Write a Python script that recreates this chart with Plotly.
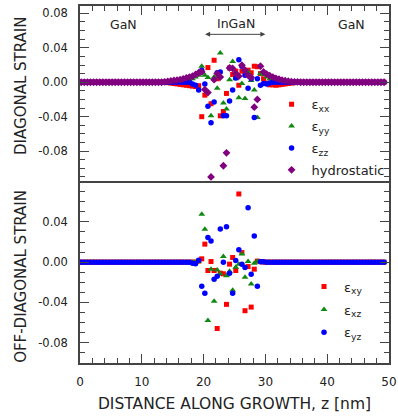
import plotly.graph_objects as go

# ---------------- data ----------------
z_nm = [
    0.2, 0.7, 1.2, 1.7, 2.2, 2.7, 3.2, 3.7, 4.2, 4.7,
    5.2, 5.7, 6.2, 6.7, 7.2, 7.7, 8.2, 8.7, 9.2, 9.7,
    10.2, 10.7, 11.2, 11.7, 12.2, 12.7, 13.2, 13.7, 14.2, 14.7,
    15.2, 15.7, 16.2, 16.7, 17.2, 17.7, 18.2, 18.7, 19.2, 19.7,
    20.2, 20.7, 21.2, 21.7, 22.2, 22.7, 23.2, 23.7, 24.2, 24.7,
    25.2, 25.7, 26.2, 26.7, 27.2, 27.7, 28.2, 28.7, 29.2, 29.7,
    30.2, 30.7, 31.2, 31.7, 32.2, 32.7, 33.2, 33.7, 34.2, 34.7,
    35.2, 35.7, 36.2, 36.7, 37.2, 37.7, 38.2, 38.7, 39.2, 39.7,
    40.2, 40.7, 41.2, 41.7, 42.2, 42.7, 43.2, 43.7, 44.2, 44.7,
    45.2, 45.7, 46.2, 46.7, 47.2, 47.7, 48.2, 48.7, 49.2,
]

eps_xx = [
    0, 0, 0, 0, 0, 0, 0, 0, 0, 0,
    0, 0, 0, 0, 0, 0, 0, 0, 0, 0,
    0, 0, 0, 0, 0, 0, 0, 0, -0.0005, -0.001,
    -0.0015, -0.002, -0.0025, -0.003, -0.0035, -0.004, -0.0045, -0.005, -0.004, -0.040,
    -0.015, 0.017, -0.025, 0.0255, 0.004, -0.039, -0.034, -0.013, 0.0166, 0.009,
    0.0128, -0.0035, 0.0128, 0.012, 0.014, 0.011, 0.0186, 0.018, 0.010, 0.004,
    -0.001, -0.003, -0.003, -0.0035, -0.003, -0.0025, -0.002, -0.0015, -0.001, -0.0005,
    0, 0, 0, 0, 0, 0, 0, 0, 0, 0,
    0, 0, 0, 0, 0, 0, 0, 0, 0, 0,
    0, 0, 0, 0, 0, 0, 0, 0, 0,
]

eps_yy = [
    0, 0, 0, 0, 0, 0, 0, 0, 0, 0,
    0, 0, 0, 0, 0, 0, 0, 0, 0, 0,
    0, 0, 0, 0, 0, 0, 0, 0, 0, 0,
    0, 0, 0.001, 0.0015, 0.002, 0.003, 0.004, 0.006, 0.008, 0.0186,
    0.008, 0.0055, -0.039, 0.006, -0.007, 0.034, -0.024, -0.031, 0.003, 0.024,
    0.004, -0.018, -0.0015, -0.019, 0.012, 0.002, -0.009, -0.041, 0.010, 0.009,
    0.006, 0.004, 0.003, 0.002, 0.0015, 0.001, 0.0005, 0, 0, 0,
    0, 0, 0, 0, 0, 0, 0, 0, 0, 0,
    0, 0, 0, 0, 0, 0, 0, 0, 0, 0,
    0, 0, 0, 0, 0, 0, 0, 0, 0,
]

eps_zz = [
    0, 0, 0, 0, 0, 0, 0, 0, 0, 0,
    0, 0, 0, 0, 0, 0, 0, 0, 0, 0,
    0, 0, 0, 0, 0, 0, 0, 0, 0, 0,
    0, 0, 0, 0, 0, 0, -0.002, -0.0035, -0.009, 0.014,
    -0.002, -0.028, -0.047, -0.023, 0.011, 0.012, -0.039, -0.039, -0.0217, -0.009,
    0.005, 0.026, 0.0186, 0.008, -0.007, 0.004, -0.041, 0.004, -0.0035, -0.0015,
    -0.002, -0.001, 0, 0, 0, 0, 0, 0, 0, 0,
    0, 0, 0, 0, 0, 0, 0, 0, 0, 0,
    0, 0, 0, 0, 0, 0, 0, 0, 0, 0,
    0, 0, 0, 0, 0, 0, 0, 0, 0,
]

hydrostatic = [
    0, 0, 0, 0, 0, 0, 0, 0, 0, 0,
    0, 0, 0, 0, 0, 0, 0, 0, 0, 0,
    0, 0, 0, 0, 0, 0, 0, 0.0005, 0.001, 0.0015,
    0.002, 0.0025, 0.003, 0.004, 0.005, 0.006, 0.007, 0.009, 0.011, 0.012,
    -0.0085, -0.012, -0.110, 0.003, 0.010, 0.006, -0.097, -0.082, 0.0166, 0.016,
    0.010, 0.007, 0.0197, 0.014, 0.008, 0.0055, -0.029, -0.020, 0.0186, 0.012,
    0.0095, 0.0075, 0.006, 0.0045, 0.0035, 0.0025, 0.0018, 0.0012, 0.0008, 0.0005,
    0.0003, 0, 0, 0, 0, 0, 0, 0, 0, 0,
    0, 0, 0, 0, 0, 0, 0, 0, 0, 0,
    0, 0, 0, 0, 0, 0, 0, 0, 0,
]

eps_xy = [
    0, 0, 0, 0, 0, 0, 0, 0, 0, 0,
    0, 0, 0, 0, 0, 0, 0, 0, 0, 0,
    0, 0, 0, 0, 0, 0, 0, 0, 0, 0,
    0, 0, 0, 0, 0, 0, 0, 0, 0.001, 0.0033,
    0.0179, -0.0083, 0.0006, -0.0083, -0.066, -0.011, -0.0116, -0.042, -0.002, 0.0046,
    -0.0083, 0.0678, 0.0095, -0.0483, -0.0044, -0.0447, -0.007, 0.001, 0.0005, 0,
    0, 0, 0, 0, 0, 0, 0, 0, 0, 0,
    0, 0, 0, 0, 0, 0, 0, 0, 0, 0,
    0, 0, 0, 0, 0, 0, 0, 0, 0, 0,
    0, 0, 0, 0, 0, 0, 0, 0, 0,
]

eps_xz = [
    0, 0, 0, 0, 0, 0, 0, 0, 0, 0,
    0, 0, 0, 0, 0, 0, 0, 0, 0, 0,
    0, 0, 0, 0, 0, 0, 0, 0, 0, 0,
    0, 0, 0, 0, 0, 0, 0, 0, 0.001, 0.0476,
    0.0328, -0.058, -0.007, -0.039, -0.0077, -0.0116, 0.0056, -0.0136, -0.009, -0.028,
    -0.005, -0.002, 0.0082, -0.015, 0.0006, -0.0218, -0.001, 0.001, 0.0005, 0,
    0, 0, 0, 0, 0, 0, 0, 0, 0, 0,
    0, 0, 0, 0, 0, 0, 0, 0, 0, 0,
    0, 0, 0, 0, 0, 0, 0, 0, 0, 0,
    0, 0, 0, 0, 0, 0, 0, 0, 0,
]

eps_yz = [
    0, 0, 0, 0, 0, 0, 0, 0, 0, 0,
    0, 0, 0, 0, 0, 0, 0, 0, 0, 0,
    0, 0, 0, 0, 0, 0, 0, 0, 0, 0,
    0, 0, 0, 0, 0, 0, -0.001, -0.0015, 0.002, -0.024,
    -0.031, 0.0244, 0.0211, -0.017, -0.014, 0.033, 0.0, 0.0353, -0.011, -0.031,
    0.0016, 0.0122, -0.002, -0.0054, 0.0542, -0.012, 0.026, -0.024, 0.0005, 0.0005,
    0, 0, 0, 0, 0, 0, 0, 0, 0, 0,
    0, 0, 0, 0, 0, 0, 0, 0, 0, 0,
    0, 0, 0, 0, 0, 0, 0, 0, 0, 0,
    0, 0, 0, 0, 0, 0, 0, 0, 0,
]

for arr in (eps_xx, eps_yy, eps_zz, hydrostatic, eps_xy, eps_xz, eps_yz):
    assert len(arr) == len(z_nm), len(arr)

top_tickvals = [-0.08, -0.04, 0.0, 0.04, 0.08]
top_ticktext = ["-0.08", "-0.04", "0.00", "0.04", "0.08"]
bot_tickvals = [-0.08, -0.04, 0.0, 0.04]
bot_ticktext = ["-0.08", "-0.04", "0.00", "0.04"]
x_tickvals = [0, 10, 20, 30, 40, 50]

top_names = ["ε<sub>xx</sub>", "ε<sub>yy</sub>", "ε<sub>zz</sub>", "hydrostatic"]
bot_names = ["ε<sub>xy</sub>", "ε<sub>xz</sub>", "ε<sub>yz</sub>"]

# ---------------- style ----------------
FONT = "DejaVu Sans"
TXT = "#222222"
AX = "#444444"
RED, GREEN, BLUE, PURPLE = "#ff0000", "#118811", "#0000ff", "#800080"

fig = go.Figure()

top_series = [
    (eps_xx, top_names[0], RED, "square", 5),
    (eps_yy, top_names[1], GREEN, "triangle-up", 6),
    (eps_zz, top_names[2], BLUE, "circle", 5.5),
    (hydrostatic, top_names[3], PURPLE, "diamond", 6),
]
for k, (vals, name, col, sym, sz) in enumerate(top_series):
    fig.add_trace(go.Scatter(
        x=z_nm, y=vals, mode="markers", name=name,
        marker=dict(color=col, symbol=sym, size=sz, line=dict(width=0)),
        xaxis="x2", yaxis="y2", legend="legend", legendgroup=f"t{k}",
    ))

bot_series = [
    (eps_xy, bot_names[0], RED, "square", 5),
    (eps_xz, bot_names[1], GREEN, "triangle-up", 6),
    (eps_yz, bot_names[2], BLUE, "circle", 5.5),
]
for k, (vals, name, col, sym, sz) in enumerate(bot_series):
    fig.add_trace(go.Scatter(
        x=z_nm, y=vals, mode="markers", name=name,
        marker=dict(color=col, symbol=sym, size=sz, line=dict(width=0)),
        xaxis="x", yaxis="y", legend="legend2", legendgroup=f"b{k}",
    ))

H_TOTAL = 357.0
split = 180.0 / H_TOTAL

common_y = dict(
    showline=True, linecolor=AX, linewidth=1.5, mirror="ticks",
    ticks="inside", ticklen=9, tickwidth=1, tickcolor=AX,
    showgrid=False, zeroline=False,
    tickfont=dict(family=FONT, size=11.5, color=TXT),
    ticklabelstandoff=8, automargin=False,
    minor=dict(ticks="inside", ticklen=5, tickcolor=AX, tickwidth=1,
               tickmode="linear", tick0=0, dtick=0.01, showgrid=False),
)
common_x = dict(
    showline=True, linecolor=AX, linewidth=1.5,
    ticks="inside", ticklen=9, tickwidth=1, tickcolor=AX,
    showgrid=False, zeroline=False, range=[0, 50], automargin=False,
    tickmode="array", tickvals=x_tickvals,
    minor=dict(ticks="inside", ticklen=5, tickcolor=AX, tickwidth=1,
               tickmode="linear", tick0=0, dtick=2, showgrid=False),
)

fig.update_layout(
    width=398, height=417,
    margin=dict(l=80, r=9, t=6, b=54),
    paper_bgcolor="white", plot_bgcolor="white",
    font=dict(family=FONT, color=TXT),
    xaxis=dict(**common_x, mirror=True, domain=[0, 1], anchor="y", side="bottom",
               tickfont=dict(family=FONT, size=12, color=TXT), ticklabelstandoff=7,
               title=dict(text="DISTANCE ALONG GROWTH, z [nm]",
                          font=dict(family=FONT, size=15.5, color=TXT), standoff=10)),
    yaxis=dict(**common_y, domain=[0, split], anchor="x", range=[-0.1003, 0.0787],
               tickmode="array", tickvals=bot_tickvals, ticktext=bot_ticktext),
    xaxis2=dict(**common_x, mirror=False, domain=[0, 1], anchor="y2", side="top",
                showticklabels=False, matches="x"),
    yaxis2=dict(**common_y, domain=[split, 1], anchor="x2", range=[-0.117, 0.0885],
                tickmode="array", tickvals=top_tickvals, ticktext=top_ticktext),
    legend=dict(x=0.62, y=0.767, xanchor="left", yanchor="top",
                bgcolor="rgba(0,0,0,0)", font=dict(family=FONT, size=13, color=TXT),
                tracegroupgap=2, itemwidth=30),
    legend2=dict(x=0.725, y=0.256, xanchor="left", yanchor="top",
                 bgcolor="rgba(0,0,0,0)", font=dict(family=FONT, size=13, color=TXT),
                 tracegroupgap=3, itemwidth=30),
)

ann_font = dict(family=FONT, size=12.5, color=TXT)
fig.add_annotation(text="GaN", x=7.0, y=0.947, xref="x2", yref="paper",
                   xanchor="center", yanchor="middle", showarrow=False, font=ann_font)
fig.add_annotation(text="InGaN", x=25.2, y=0.950, xref="x2", yref="paper",
                   xanchor="center", yanchor="middle", showarrow=False, font=ann_font)
fig.add_annotation(text="GaN", x=43.9, y=0.947, xref="x2", yref="paper",
                   xanchor="center", yanchor="middle", showarrow=False, font=ann_font)
fig.add_annotation(text="", x=30, y=0.0556, ax=20, ay=0.0556,
                   xref="x2", yref="y2", axref="x2", ayref="y2",
                   showarrow=True, arrowside="end+start", arrowhead=2, startarrowhead=2,
                   arrowsize=1, startarrowsize=1, arrowwidth=1, arrowcolor=AX)

fig.add_annotation(text="DIAGONAL STRAIN", textangle=-90, x=-0.191, y=0.776,
                   xref="paper", yref="paper", xanchor="center", yanchor="middle",
                   showarrow=False, font=dict(family=FONT, size=15, color=TXT))
fig.add_annotation(text="OFF-DIAGONAL STRAIN", textangle=-90, x=-0.191, y=0.244,
                   xref="paper", yref="paper", xanchor="center", yanchor="middle",
                   showarrow=False, font=dict(family=FONT, size=15, color=TXT))

fig.write_html("out.html", config={"displayModeBar": False},
               post_script="document.body.style.margin='0px';")
